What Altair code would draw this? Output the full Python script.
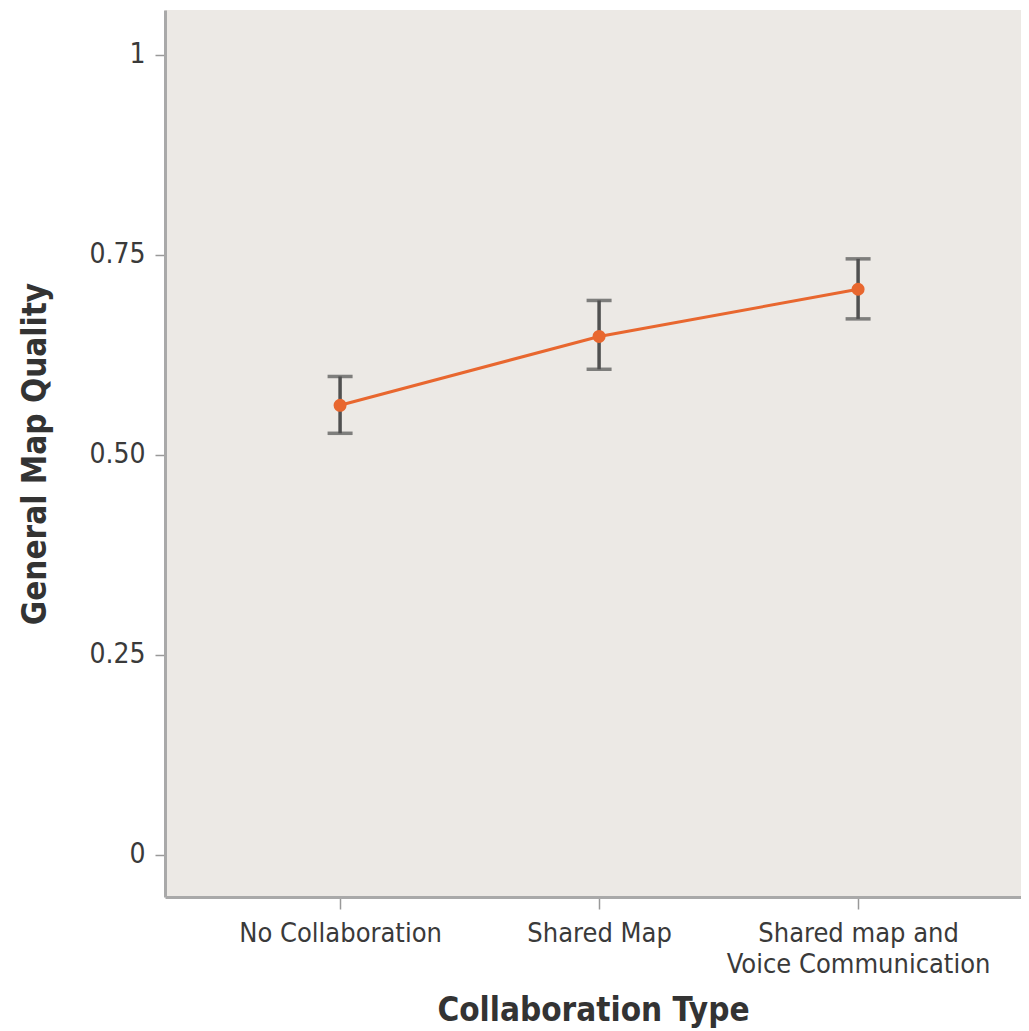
import altair as alt
import pandas as pd

categories = ["No Collaboration", "Shared Map", "Shared map and Voice Communication"]
means = [0.562, 0.648, 0.707]
lower = [0.527, 0.607, 0.670]
upper = [0.598, 0.693, 0.745]

df = pd.DataFrame({"cat": categories, "mean": means, "lower": lower, "upper": upper})

FONT = "DejaVu Sans Condensed"

x = alt.X(
    "cat:N",
    sort=categories,
    scale=alt.Scale(type="point", padding=0.6525, align=0.518),
    axis=alt.Axis(
        title="Collaboration Type",
        labelExpr="datum.label == 'Shared map and Voice Communication' ? ['Shared map and', 'Voice Communication'] : datum.label",
        labelAngle=0,
        labelFontSize=27,
        labelColor="#3a3a3a",
        labelFont=FONT,
        labelPadding=11,
        labelLineHeight=31,
        labelLimit=0,
        tickSize=12,
        tickColor="#999999",
        tickWidth=1.5,
        domainColor="#a9a9a9",
        domainWidth=3,
        titleFontSize=33,
        titleFont=FONT,
        titleFontWeight="bold",
        titleColor="#333333",
        titlePadding=17,
        grid=False,
    ),
)

yscale = alt.Scale(domain=[-0.0525, 1.056], nice=False, zero=False)
yaxis = alt.Axis(
    title="General Map Quality",
    values=[0, 0.25, 0.5, 0.75, 1],
    labelExpr="datum.value == 0 ? '0' : datum.value == 1 ? '1' : format(datum.value, '.2f')",
    labelFontSize=28,
    labelColor="#3a3a3a",
    labelFont=FONT,
    labelPadding=10,
    tickSize=10,
    tickColor="#999999",
    tickWidth=1.5,
    domainColor="#a9a9a9",
    domainWidth=3,
    titleFontSize=33,
    titleFont=FONT,
    titleFontWeight="bold",
    titleColor="#333333",
    titlePadding=36,
    grid=False,
)

base = alt.Chart(df)

rule = base.mark_rule(color="#505050", strokeWidth=3.5).encode(
    x=x, y=alt.Y("lower:Q", scale=yscale, axis=yaxis), y2="upper:Q"
)
cap_lo = base.mark_tick(color="#505050", size=25, thickness=3.5).encode(
    x=x, y=alt.Y("lower:Q", scale=yscale, axis=yaxis)
)
cap_hi = base.mark_tick(color="#505050", size=25, thickness=3.5).encode(
    x=x, y=alt.Y("upper:Q", scale=yscale, axis=yaxis)
)
line = base.mark_line(color="#E8672F", strokeWidth=3).encode(
    x=x, y=alt.Y("mean:Q", scale=yscale, axis=yaxis)
)
pts = base.mark_point(filled=True, color="#E8672F", size=170, opacity=1).encode(
    x=x, y=alt.Y("mean:Q", scale=yscale, axis=yaxis)
)

chart = (
    alt.layer(rule, cap_lo, cap_hi, line, pts)
    .properties(
        width=856,
        height=887,
        autosize=alt.AutoSizeParams(type="none"),
        padding={"left": 157, "top": 2, "right": 0, "bottom": 142},
        background="white",
    )
    .configure_view(fill="#ECE9E5", stroke=None)
)

chart.save("out.html", embed_options={"renderer": "svg", "actions": False})
